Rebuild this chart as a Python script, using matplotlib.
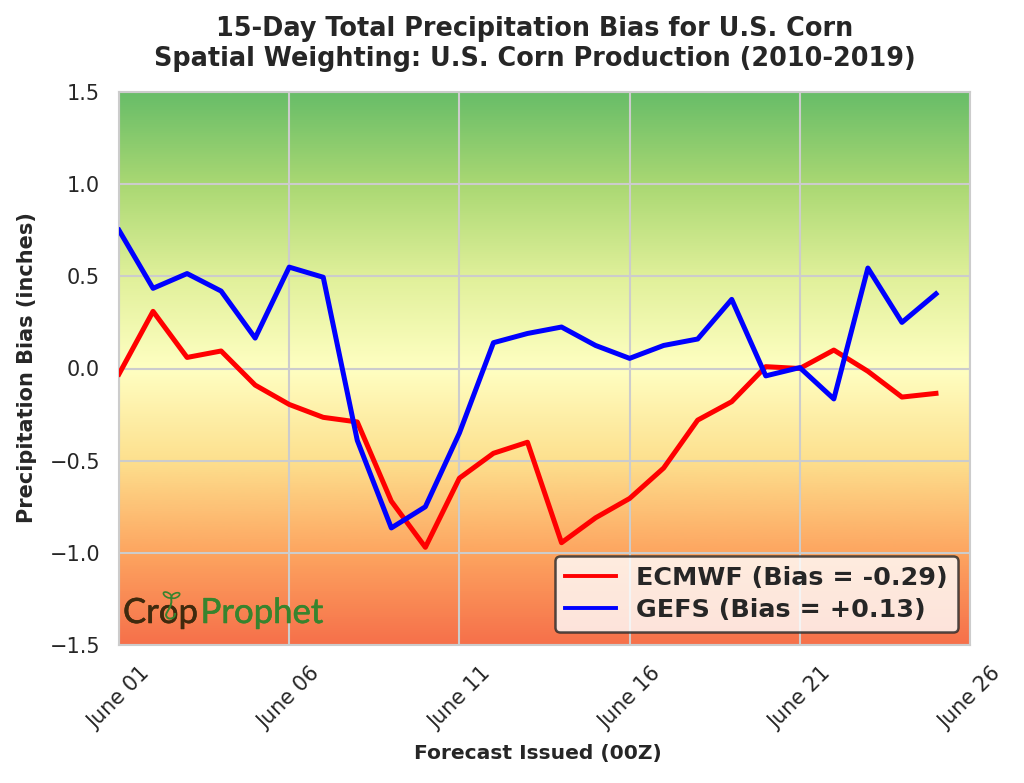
import numpy as np
import matplotlib
matplotlib.use("Agg")
import matplotlib.pyplot as plt
import matplotlib.patheffects as pe
from matplotlib.colors import LinearSegmentedColormap
from matplotlib.patches import Ellipse, PathPatch
from matplotlib.path import Path
from matplotlib.transforms import IdentityTransform

days = np.arange(25)
ecmwf = [-0.03, 0.31, 0.06, 0.095, -0.09, -0.195, -0.265, -0.29, -0.72, -0.97, -0.595, -0.46, -0.40,
         -0.945, -0.81, -0.705, -0.54, -0.28, -0.18, 0.01, 0.0, 0.10, -0.015, -0.155, -0.135]
gefs = [0.75, 0.435, 0.515, 0.42, 0.165, 0.55, 0.495, -0.39, -0.865, -0.75, -0.35, 0.14, 0.19,
        0.225, 0.125, 0.055, 0.125, 0.16, 0.375, -0.04, 0.005, -0.165, 0.545, 0.25, 0.405]
tick_days = [0, 5, 10, 15, 20, 25]
tick_labels = ["June 01", "June 06", "June 11", "June 16", "June 21", "June 26"]
y_ticks = [-1.5, -1.0, -0.5, 0.0, 0.5, 1.0, 1.5]

plt.rcParams["font.family"] = "DejaVu Sans"
text_color = "#262626"
grid_color = "#cccccc"
logo_green = "#37842e"
logo_brown = "#3f2a0e"

fig = plt.figure(figsize=(10.24, 7.83), dpi=100)
ax = fig.add_axes([119 / 1024, 1 - 645 / 783, 851 / 1024, 553 / 783])

# background gradient, bottom to top
cmap = LinearSegmentedColormap.from_list("bias", ["#f6704a", "#fda560", "#fde08e", "#ffffc2", "#e0f09a", "#aad873", "#68bd68"])
ax.imshow(np.linspace(0, 1, 768).reshape(-1, 1), cmap=cmap, origin="lower", aspect="auto",
          extent=[0, 25, -1.5, 1.5], zorder=0)

ax.plot(days, ecmwf, color="red", lw=3.6, label="ECMWF (Bias = -0.29)", zorder=3)
ax.plot(days, gefs, color="blue", lw=3.6, label="GEFS (Bias = +0.13)", zorder=3)

ax.set_xlim(0, 25)
ax.set_ylim(-1.5, 1.5)
ax.set_xticks(tick_days)
ax.set_xticklabels(tick_labels, rotation=45, fontsize=15, color=text_color)
ax.set_yticks(y_ticks)
ax.set_yticklabels([f"{v:.1f}".replace("-", "\u2212") for v in y_ticks], fontsize=15, color=text_color)
ax.tick_params(axis="y", length=0, pad=13.5)
ax.tick_params(axis="x", length=0, pad=13)
ax.grid(True, color=grid_color, lw=1.5, zorder=1)
for line in ax.get_xgridlines() + ax.get_ygridlines():
    line.set_zorder(1)
for s in ax.spines.values():
    s.set_color(grid_color)
    s.set_linewidth(1.5)

fig.text(538 / 1024, 1 - 753 / 783, "Forecast Issued (00Z)", ha="center", va="center",
         fontsize=14.6, fontweight="bold", color=text_color)
fig.text(27 / 1024, 1 - 368 / 783, "Precipitation Bias (inches)", ha="center", va="center", rotation=90,
         fontsize=15, fontweight="bold", color=text_color)
fig.text(535 / 1024, 1 - 44 / 783, "15-Day Total Precipitation Bias for U.S. Corn\nSpatial Weighting: U.S. Corn Production (2010-2019)",
         ha="center", va="center", fontsize=18.4, fontweight="bold", color=text_color, linespacing=1.15)

leg = ax.legend(loc="lower right", bbox_to_anchor=((958 - 119) / 851, (645 - 632) / 553), borderaxespad=0,
                prop={"size": 18.3, "weight": "bold"}, frameon=True, fancybox=True, framealpha=0.8,
                facecolor="white", edgecolor="#262626", labelspacing=0.3)
leg.get_frame().set_linewidth(1.8)
for t in leg.get_texts():
    t.set_color(text_color)
for h in leg.get_lines():
    h.set_linewidth(2.8)
leg.set_zorder(5)


def px(x, y):
    # reference pixel position to display coords, only for the logo
    return x, 783 - y


identity = IdentityTransform()
for x, word, col in [(123, "Crop", logo_brown), (200.5, "Prophet", logo_green)]:
    t = ax.text(*px(x, 623), word, transform=identity, fontsize=25, family="Lato",
                color=col, va="baseline", zorder=2)
    t.set_path_effects([pe.withStroke(linewidth=0.4, foreground=col)])
stem = Path([px(171, 598), px(173, 606), px(167, 610), px(166, 615), px(167, 621), px(176, 619), px(175, 613)],
            [Path.MOVETO, Path.CURVE4, Path.CURVE4, Path.CURVE4, Path.CURVE4, Path.CURVE4, Path.CURVE4])
ax.add_patch(PathPatch(stem, fill=False, edgecolor=logo_green, lw=1.4, transform=identity, zorder=2))
for lx, ly, ang in [(167.5, 595, -30), (175.5, 595.5, 25)]:
    ax.add_patch(Ellipse(px(lx, ly), 9, 4.5, angle=ang, facecolor="none", edgecolor=logo_green, lw=1.2,
                         transform=identity, zorder=2))

fig.savefig("out.png", dpi=100, facecolor="white")
